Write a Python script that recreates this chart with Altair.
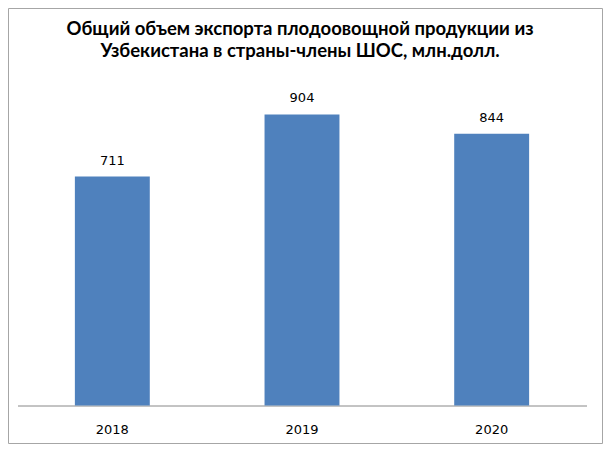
import altair as alt
import pandas as pd

years = ["2018", "2019", "2020"]
values = [711, 904, 844]
title_line1 = "Общий объем экспорта плодоовощной продукции из"
title_line2 = "Узбекистана в страны-члены ШОС, млн.долл."

df = pd.DataFrame({"year": years, "value": values})

x = alt.X(
    "year:N",
    sort=years,
    title=None,
    scale=alt.Scale(paddingInner=0.605, paddingOuter=0.3025),
    axis=alt.Axis(
        labelAngle=0,
        ticks=False,
        domainColor="#888888",
        domainWidth=1,
        labelFont="DejaVu Sans",
        labelFontSize=13,
        labelColor="#000000",
        labelPadding=28,
        labelBaseline="alphabetic",
        grid=False,
    ),
)
y = alt.Y("value:Q", scale=alt.Scale(domain=[0, 1000]), axis=None)

base = alt.Chart(df)
bars = base.mark_bar(color="#4F81BD").encode(x=x, y=y)
labels = base.mark_text(
    dy=-12, baseline="alphabetic", font="DejaVu Sans", fontSize=13, color="#000000"
).encode(x=x, y=y, text="value:Q")

one = alt.Data(values=[{"a": 1}])
frame = alt.Chart(one).mark_rect(
    filled=False, stroke="#A6A6A6", strokeWidth=1
).encode(
    x=alt.value(-9), x2=alt.value(585), y=alt.value(-75), y2=alt.value(360)
)

title_style = dict(
    font="Lato", fontSize=18.5, fontWeight="bold", color="#000000",
    align="center", baseline="alphabetic",
)
t1 = alt.Chart(one).mark_text(**title_style).encode(
    x=alt.value(282.5), y=alt.value(-49), text=alt.value(title_line1)
)
t2 = alt.Chart(one).mark_text(**title_style).encode(
    x=alt.value(282.5), y=alt.value(-27), text=alt.value(title_line2)
)

chart = alt.layer(frame, bars, labels, t1, t2).properties(
    width=569,
    height=322,
    autosize=alt.AutoSizeParams(type="none"),
    padding={"left": 9.5, "top": 75.5, "right": 16.5, "bottom": 38.5},
).configure_view(stroke=None)

chart.save("out.html", embed_options={"renderer": "svg", "actions": False})
